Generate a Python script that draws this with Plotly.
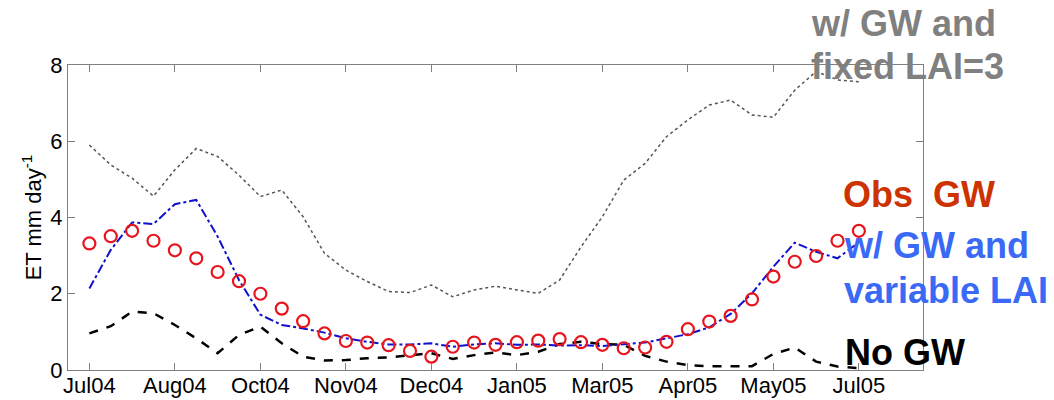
import plotly.graph_objects as go

# x positions (sample index, ~10-day steps)
idx = list(range(37))
tick_vals = [0, 4, 8, 12, 16, 20, 24, 28, 32, 36]
tick_text = ['Jul04', 'Aug04', 'Oct04', 'Nov04', 'Dec04', 'Jan05', 'Mar05', 'Apr05', 'May05', 'Jul05']

obs_gw = [3.32, 3.51, 3.65, 3.39, 3.14, 2.93, 2.57, 2.33, 2.00, 1.61,
          1.28, 0.96, 0.76, 0.72, 0.65, 0.50, 0.35, 0.61, 0.72, 0.66,
          0.73, 0.77, 0.81, 0.73, 0.66, 0.57, 0.59, 0.74, 1.07, 1.27,
          1.42, 1.85, 2.45, 2.84, 2.99, 3.39, 3.65]

gw_variable_lai = [2.14, 3.15, 3.87, 3.83, 4.35, 4.46, 3.50, 2.36, 1.45, 1.18,
                   1.09, 0.98, 0.83, 0.74, 0.67, 0.67, 0.70, 0.61, 0.67, 0.70,
                   0.66, 0.67, 0.64, 0.65, 0.63, 0.67, 0.72, 0.83, 0.94, 1.12,
                   1.47, 2.01, 2.71, 3.34, 3.10, 2.93, 3.35]

no_gw = [0.96, 1.15, 1.53, 1.49, 1.18, 0.83, 0.44, 0.92, 1.14, 0.70,
         0.35, 0.25, 0.26, 0.31, 0.33, 0.39, 0.44, 0.29, 0.39, 0.46,
         0.39, 0.48, 0.68, 0.74, 0.68, 0.66, 0.37, 0.22, 0.13, 0.10,
         0.10, 0.10, 0.42, 0.59, 0.22, 0.09, 0.05]

gw_fixed_lai = [5.90, 5.38, 5.03, 4.56, 5.25, 5.81, 5.60, 5.11, 4.55, 4.72,
                4.02, 3.06, 2.62, 2.32, 2.06, 2.03, 2.23, 1.92, 2.10, 2.20,
                2.10, 2.01, 2.36, 3.23, 4.02, 4.98, 5.42, 6.12, 6.56, 6.95,
                7.08, 6.69, 6.63, 7.34, 7.83, 7.61, 7.56]

FONT = "Liberation Sans, Arial, sans-serif"

fig = go.Figure()
fig.add_trace(go.Scatter(x=idx, y=gw_fixed_lai, mode='lines',
                         line=dict(color='#555555', width=1.5, dash='dot'), showlegend=False))
fig.add_trace(go.Scatter(x=idx, y=no_gw, mode='lines',
                         line=dict(color='black', width=2.5, dash='dash'), showlegend=False))
fig.add_trace(go.Scatter(x=idx, y=gw_variable_lai, mode='lines',
                         line=dict(color='#1010d0', width=2, dash='dashdot'), showlegend=False))
fig.add_trace(go.Scatter(x=idx, y=obs_gw, mode='markers',
                         marker=dict(symbol='circle-open', size=12, color='#e8141c',
                                     line=dict(width=2.2, color='#e8141c')),
                         showlegend=False))

L, R, T, B = 68, 923, 65, 370
W, H = 1054, 400


def px(xp):
    return (xp - L) / (R - L)


def py(yp):
    return (B - yp) / (B - T)


labels = [
    ("w/ GW and", 809, 23.5, '#808080'),
    ("fixed LAI=3", 809, 66.5, '#808080'),
    ("Obs  GW", 841, 194, '#cc3300'),
    ("w/ GW and", 842, 245, '#3a6af5'),
    ("variable LAI", 842, 290, '#3a6af5'),
    ("No GW", 843, 352, 'black'),
]
for text, xp, yp, col in labels:
    fig.add_annotation(x=px(xp), y=py(yp), xref='paper', yref='paper',
                       text=f"<b>{text}</b>", showarrow=False,
                       xanchor='left', yanchor='middle',
                       font=dict(family=FONT, size=36, color=col))

fig.update_layout(
    width=W, height=H,
    margin=dict(l=L, r=W - R, t=T, b=H - B, autoexpand=False),
    plot_bgcolor='white', paper_bgcolor='white',
    font=dict(family=FONT, color='black'),
)
fig.update_xaxes(range=[-1, 39], tickvals=tick_vals, ticktext=tick_text,
                 ticks='inside', ticklen=7, tickcolor='#808080',
                 showline=True, linecolor='#808080', linewidth=1, mirror='ticks',
                 showgrid=False, zeroline=False, automargin=False,
                 ticklabelstandoff=-4,
                 tickfont=dict(size=22, family=FONT, color='black'))
fig.update_yaxes(range=[0, 8], tickvals=[0, 2, 4, 6, 8],
                 ticks='inside', ticklen=7, tickcolor='#808080',
                 showline=True, linecolor='#808080', linewidth=1, mirror='ticks',
                 showgrid=False, zeroline=False, automargin=False,
                 tickfont=dict(size=22, family=FONT, color='black'),
                 title=dict(text="ET mm day<sup>-1</sup>", standoff=2,
                            font=dict(size=22, family=FONT, color='black')))

fig.write_html("out.html")
